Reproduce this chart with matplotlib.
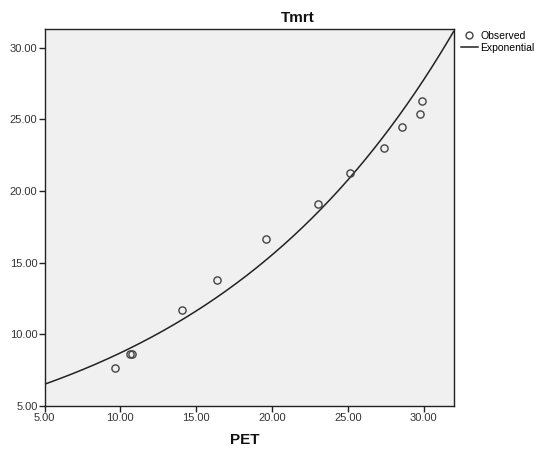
import numpy as np
import matplotlib
matplotlib.use("Agg")
import matplotlib.pyplot as plt
from matplotlib.lines import Line2D

plt.rcParams['font.family'] = ['Liberation Sans', 'DejaVu Sans']

# Observed data (PET, Tmrt)
pet = [9.65, 10.65, 10.75, 14.05, 16.35, 19.6, 23.0, 25.15, 27.4, 28.55, 29.75, 29.9]
tmrt = [7.6, 8.6, 8.6, 11.7, 13.75, 16.65, 19.1, 21.25, 23.0, 24.5, 25.4, 26.3]

# Exponential model coefficients (Tmrt = b0 * exp(b1 * PET))
b0 = 4.86
b1 = 0.0581

x_ticks = [5, 10, 15, 20, 25, 30]
y_ticks = [5, 10, 15, 20, 25, 30]
x_lim = (5.0, 32.0)
y_lim = (5.0, 31.3)

fig = plt.figure(figsize=(5.36, 4.5), dpi=100)
L, R, T, B = 44.5, 454.0, 29.3, 405.7
ax = fig.add_axes([L/536, 1-B/450, (R-L)/536, (B-T)/450])
ax.set_facecolor('#f0f0f0')

xs = np.linspace(x_lim[0], x_lim[1], 400)
ax.plot(xs, b0*np.exp(b1*xs), color='#222222', lw=1.1, solid_capstyle='butt')
ax.plot(pet, tmrt, linestyle='none', marker='o', markersize=5.2,
        markerfacecolor='none', markeredgecolor='#444444', markeredgewidth=1.0)

ax.set_xlim(*x_lim)
ax.set_ylim(*y_lim)
ax.set_xticks(x_ticks)
ax.set_yticks(y_ticks)
ax.set_xticklabels([f"{v:.2f}" for v in x_ticks])
ax.set_yticklabels([f"{v:.2f}" for v in y_ticks])
ax.tick_params(direction='out', length=4, width=1, colors='#222222',
               labelsize=8, labelcolor='#333333', pad=1)
for s in ax.spines.values():
    s.set_color('#222222')
    s.set_linewidth(1.0)

fig.text(298/536, 1-17.7/450, 'Tmrt', ha='center', va='center',
         fontsize=11, fontweight='bold', color='#111111')
fig.text(245/536, 1-440/450, 'PET', ha='center', va='center',
         fontsize=11, fontweight='bold', color='#111111')

handles = [Line2D([], [], linestyle='none', marker='o', markersize=5,
                  markerfacecolor='none', markeredgecolor='#444444', markeredgewidth=1.0),
           Line2D([], [], color='#222222', lw=1.1)]
fig.legend(handles, ['Observed', 'Exponential'], loc='upper left',
           bbox_to_anchor=(461/536, 1-31/450), frameon=False, fontsize=7.5,
           handlelength=1.6, handletextpad=0.25, labelspacing=0.15,
           borderaxespad=0, borderpad=0)

fig.savefig('out.png', dpi=100)
